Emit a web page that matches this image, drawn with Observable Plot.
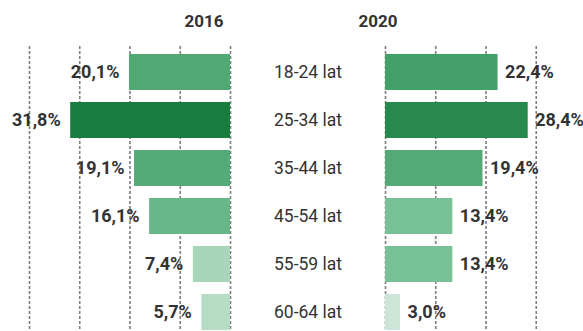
<!DOCTYPE html>
<html><head><meta charset="utf-8">
<script src="https://cdn.jsdelivr.net/npm/d3@7"></script>
<script src="https://cdn.jsdelivr.net/npm/@observablehq/plot@0.6"></script>
<style>
body{margin:0;background:#fff;}
#chart{position:relative;width:583px;height:331px;display:flex;font-family:Roboto,sans-serif;overflow:hidden;}
#chart svg{overflow:visible;flex:none;}
</style></head><body><div id="chart"></div>
<script>
const categories = ["18-24 lat","25-34 lat","35-44 lat","45-54 lat","55-59 lat","60-64 lat"];
const values2016 = [20.1,31.8,19.1,16.1,7.4,5.7];
const values2020 = [22.4,28.4,19.4,13.4,13.4,3.0];
const years = ["2016","2020"];
const gridTicks = [0,10,20,30,40];

const d2016 = categories.map((c,i)=>({c, v: values2016[i]}));
const d2020 = categories.map((c,i)=>({c, v: values2020[i]}));
const fmt = d => d.v.toFixed(1).replace(".", ",") + "%";

const yScale = {type: "band", domain: categories, range: [41, 342], padding: 0.25, axis: null};
const colorScale = {type: "linear", domain: [3, 7.4, 13.4, 19.1, 22.4, 31.8],
  range: ["#cde5d7", "#a9d6bb", "#78c197", "#55ab77", "#43a068", "#177c3d"]};
const grid = ticks => Plot.ruleX(ticks, {stroke: "#7e7e7e", strokeWidth: 1.6, strokeDasharray: "3,2"});
const common = {height: 331, marginTop: 46, marginBottom: 0, marginLeft: 0, marginRight: 0,
  style: {fontFamily: "Roboto, sans-serif", background: "transparent"}};

const left = Plot.plot({...common, width: 232,
  x: {domain: [0, 40], range: [230, 29], axis: null},
  y: yScale, color: colorScale,
  marks: [
    grid(gridTicks),
    Plot.barX(d2016, {x: "v", y: "c", fill: "v"}),
    Plot.text(d2016, {x: "v", y: "c", text: fmt, textAnchor: "end", dx: -10, fontSize: 18, fontWeight: "bold", fill: "#333"})
  ]});

const mid = Plot.plot({...common, width: 151,
  x: {domain: [0, 1], axis: null},
  y: yScale,
  marks: [
    Plot.text(categories, {y: d => d, text: d => d, frameAnchor: "middle", fontSize: 17.5, fill: "#333"}),
    Plot.text([years[0]], {text: d => d, frameAnchor: "top-left", textAnchor: "end", lineAnchor: "middle", dx: -9, dy: -25, fontSize: 17, fontWeight: "bold", fill: "#333"}),
    Plot.text([years[1]], {text: d => d, frameAnchor: "top-right", textAnchor: "start", lineAnchor: "middle", dx: -25, dy: -25, fontSize: 17, fontWeight: "bold", fill: "#333"})
  ]});

const right = Plot.plot({...common, width: 200,
  x: {domain: [0, 40], range: [2, 203], axis: null},
  y: yScale, color: colorScale,
  marks: [
    grid(gridTicks.filter(t => t < 40)),
    Plot.barX(d2020, {x: "v", y: "c", fill: "v"}),
    Plot.text(d2020, {x: "v", y: "c", text: fmt, textAnchor: "start", dx: 7, fontSize: 18, fontWeight: "bold", fill: "#333"})
  ]});

const el = document.getElementById("chart");
el.append(left, mid, right);
</script></body></html>
